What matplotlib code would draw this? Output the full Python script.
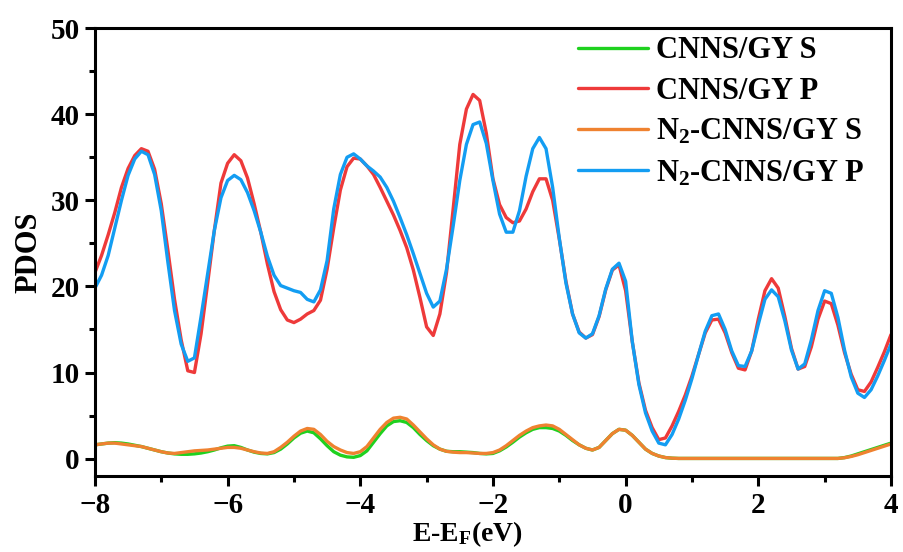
import numpy as np
import matplotlib
matplotlib.use('Agg')
import matplotlib.pyplot as plt
from matplotlib.ticker import MultipleLocator

plt.rcParams['font.family'] = ['Liberation Serif', 'DejaVu Serif']
plt.rcParams['font.weight'] = 'bold'
plt.rcParams['mathtext.default'] = 'regular'

# energy grid, 0.1 eV
energy = np.round(np.arange(-8.0, 4.001, 0.1), 1)

cnns_s = [
    1.6, 1.7, 1.8, 1.85, 1.8, 1.7, 1.55, 1.4, 1.2, 1.0,
    0.8, 0.65, 0.55, 0.5, 0.5, 0.55, 0.65, 0.8, 1.0, 1.25,
    1.45, 1.5, 1.3, 1.0, 0.75, 0.6, 0.55, 0.7, 1.1, 1.7,
    2.4, 2.95, 3.2, 3.0, 2.3, 1.5, 0.8, 0.4, 0.2, 0.15,
    0.35, 0.9, 1.9, 2.9, 3.8, 4.3, 4.4, 4.2, 3.6, 2.8,
    2.1, 1.5, 1.1, 0.85, 0.8, 0.8, 0.75, 0.7, 0.6, 0.55,
    0.6, 0.9, 1.35, 1.9, 2.5, 3.0, 3.4, 3.6, 3.6, 3.5,
    3.2, 2.7, 2.1, 1.6, 1.2, 1.0, 1.3, 2.1, 2.9, 3.4,
    3.3, 2.7, 1.9, 1.1, 0.6, 0.3, 0.12, 0.05, 0.02, 0.02,
    0.02, 0.02, 0.02, 0.02, 0.02, 0.02, 0.02, 0.02, 0.02, 0.02,
    0.02, 0.02, 0.02, 0.02, 0.02, 0.02, 0.02, 0.02, 0.02, 0.02,
    0.02, 0.02, 0.02, 0.12, 0.3, 0.55, 0.8, 1.05, 1.3, 1.55,
    1.8,
]

cnns_p = [
    21.6, 23.6, 26.0, 28.6, 31.5, 33.7, 35.2, 36.0, 35.7, 33.6,
    29.6, 24.2, 18.5, 13.8, 10.2, 10.0, 14.5, 20.4, 26.5, 32.0,
    34.3, 35.3, 34.6, 32.6, 29.6, 26.3, 22.6, 19.4, 17.3, 16.1,
    15.8, 16.2, 16.8, 17.2, 18.4, 22.0, 26.8, 31.2, 33.9, 34.9,
    34.8, 34.0, 33.0, 31.5, 29.9, 28.3, 26.5, 24.5, 21.9, 18.7,
    15.3, 14.3, 16.8, 21.6, 29.0, 36.5, 40.6, 42.3, 41.6, 37.8,
    32.5, 29.5, 28.0, 27.4, 27.6, 29.0, 31.0, 32.5, 32.5, 30.0,
    25.5, 20.6, 16.8, 14.7, 14.0, 14.4, 16.5, 19.6, 21.9, 22.5,
    19.5, 13.6, 8.8, 5.6, 3.6, 2.2, 2.4, 3.8, 5.5, 7.4,
    9.6, 12.1, 14.6, 16.1, 16.2, 14.6, 12.3, 10.5, 10.3, 12.5,
    16.2, 19.5, 20.9, 19.8, 16.5, 12.8, 10.4, 10.7, 13.0, 16.2,
    18.3, 18.0, 15.5, 12.3, 9.8, 8.0, 7.8, 8.9, 10.6, 12.4,
    14.4,
]

n2_s = [
    1.6, 1.7, 1.8, 1.8, 1.7, 1.6, 1.5, 1.4, 1.2, 1.0,
    0.8, 0.65, 0.6, 0.7, 0.8, 0.9, 0.95, 1.0, 1.1, 1.2,
    1.3, 1.3, 1.2, 1.0, 0.8, 0.65, 0.6, 0.8, 1.3, 1.9,
    2.6, 3.2, 3.5, 3.4, 2.8, 2.0, 1.4, 1.0, 0.7, 0.6,
    0.8, 1.4, 2.4, 3.4, 4.2, 4.7, 4.8, 4.6, 3.9, 3.1,
    2.3, 1.6, 1.1, 0.85, 0.75, 0.7, 0.7, 0.65, 0.6, 0.6,
    0.7, 1.0, 1.5, 2.1, 2.7, 3.2, 3.6, 3.8, 3.9, 3.8,
    3.4, 2.8, 2.2, 1.6, 1.2, 1.0, 1.3, 2.1, 2.9, 3.4,
    3.3, 2.7, 1.9, 1.1, 0.6, 0.3, 0.12, 0.05, 0.02, 0.02,
    0.02, 0.02, 0.02, 0.02, 0.02, 0.02, 0.02, 0.02, 0.02, 0.02,
    0.02, 0.02, 0.02, 0.02, 0.02, 0.02, 0.02, 0.02, 0.02, 0.02,
    0.02, 0.02, 0.02, 0.1, 0.25, 0.45, 0.7, 0.95, 1.2, 1.45,
    1.7,
]

n2_p = [
    19.8, 21.3, 23.6, 26.8, 30.0, 32.9, 34.8, 35.7, 35.3, 33.0,
    28.8, 22.8, 17.2, 13.3, 11.3, 11.7, 16.5, 21.5, 26.5, 30.3,
    32.3, 32.9, 32.4, 30.9, 28.8, 26.3, 23.5, 21.3, 20.1, 19.8,
    19.5, 19.3, 18.5, 18.2, 19.6, 23.0, 29.0, 33.0, 35.0, 35.4,
    34.8, 34.0, 33.4, 32.7, 31.5, 29.9, 28.0, 26.0, 23.8, 21.5,
    19.2, 17.6, 18.3, 22.0, 27.0, 32.3, 36.5, 38.8, 39.1, 36.6,
    32.3, 28.4, 26.3, 26.3, 28.8, 32.8, 36.0, 37.3, 36.0, 31.5,
    25.6, 20.4, 16.8, 14.6, 14.0, 14.5, 16.6, 19.7, 22.0, 22.7,
    20.6, 13.6, 8.6, 5.3, 3.2, 1.8, 1.6, 2.8, 4.6, 6.8,
    9.3, 12.1, 14.8, 16.6, 16.8, 15.0, 12.5, 10.8, 10.7, 12.5,
    15.6, 18.5, 19.6, 18.8, 16.0, 12.6, 10.4, 11.0, 13.8, 17.2,
    19.5, 19.2, 16.4, 12.6, 9.5, 7.6, 7.1, 8.0, 9.6, 11.4,
    13.3,
]

labels = ['CNNS/GY S', 'CNNS/GY P', 'N$_2$-CNNS/GY S', 'N$_2$-CNNS/GY P']
colors = ['#1fd11f', '#ee3a3a', '#ef8230', '#139df2']

fig = plt.figure(figsize=(9.04, 5.52), dpi=100)
ax = fig.add_axes([0.105, 0.138, 0.8806, 0.811])

for y, lab, c in zip([cnns_s, cnns_p, n2_s, n2_p], labels, colors):
    ax.plot(energy, y, color=c, lw=2.4, label=lab,
            solid_joinstyle='round', solid_capstyle='round')

ax.set_xlim(-8, 4)
ax.set_ylim(-2, 50)
ax.xaxis.set_major_locator(MultipleLocator(2))
ax.xaxis.set_minor_locator(MultipleLocator(1))
ax.yaxis.set_major_locator(MultipleLocator(10))
ax.yaxis.set_minor_locator(MultipleLocator(5))
ax.tick_params(which='major', direction='out', length=7, width=2.2, labelsize=21)
ax.tick_params(which='minor', direction='out', length=4, width=2.2)
ax.tick_params(axis='x', which='major', pad=5)
ax.tick_params(axis='y', which='major', pad=4)
for s in ax.spines.values():
    s.set_linewidth(2.2)

ax.set_xlabel('E-E$_F$(eV)', fontsize=20, fontweight='bold', labelpad=0)
ax.xaxis.set_label_coords(0.468, -0.097)
ax.set_ylabel('PDOS', fontsize=22, fontweight='bold', labelpad=5)

leg = ax.legend(loc='upper left', bbox_to_anchor=(0.607, 0.982), frameon=False,
                fontsize=22, handlelength=2.3, handletextpad=0.25,
                labelspacing=0.38, borderpad=0, borderaxespad=0)

fig.savefig('out.png', dpi=100)
